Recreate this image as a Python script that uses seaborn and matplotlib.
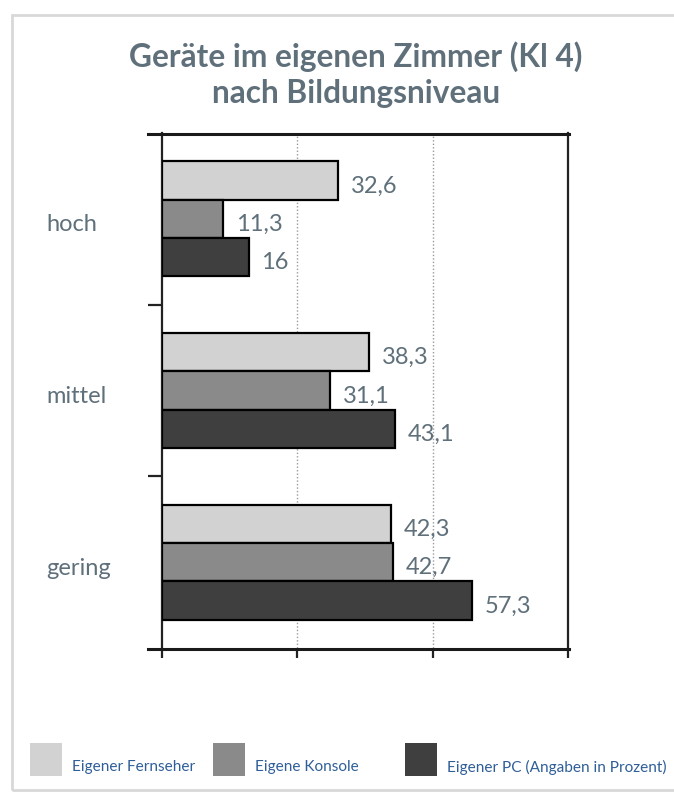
import pandas as pd
import seaborn as sns
import matplotlib.pyplot as plt
from matplotlib.patches import Rectangle
from matplotlib.lines import Line2D
from matplotlib.transforms import ScaledTranslation

# data
levels = ['hoch', 'mittel', 'gering']
series = ['Eigener Fernseher', 'Eigene Konsole', 'Eigener PC (Angaben in Prozent)']
fernseher = [32.6, 38.3, 42.3]
konsole = [11.3, 31.1, 42.7]
pc = [16.0, 43.1, 57.3]
x_ticks = [0, 25, 50, 75]

colors = ['#d2d2d2', '#8a8a8a', '#3f3f3f']
text_grey = '#5f707b'
legend_blue = '#2f5e98'

rows = []
for name, vals in zip(series, [fernseher, konsole, pc]):
    for lvl, v in zip(levels, vals):
        rows.append({'Bildung': lvl, 'Serie': name, 'Wert': v})
data = pd.DataFrame(rows)

sns.set_style('white')
plt.rcParams['font.family'] = ['Lato', 'DejaVu Sans']

fig = plt.figure(figsize=(6.74, 7.99), dpi=100)
ax = fig.add_axes([162 / 674, 1 - 648 / 799, 406 / 674, 515 / 799])

sns.barplot(data=data, y='Bildung', x='Wert', hue='Serie', order=levels, hue_order=series,
            palette=dict(zip(series, colors)), orient='h', width=0.67, saturation=1,
            edgecolor='black', linewidth=1.6, legend=False, ax=ax, zorder=3)

# value labels with German decimal comma, sitting a little below the bar centre
for cont in ax.containers:
    labels = [f'{v:g}'.replace('.', ',') for v in cont.datavalues]
    texts = ax.bar_label(cont, labels=labels, padding=9, fontsize=17, color=text_grey)
    for t in texts:
        t.xyann = (9, -4)

ax.set_xlim(0, 75)
ax.set_ylim(2.5, -0.5)
ax.set_xticks(x_ticks)
ax.set_xticklabels([])
ax.set_xlabel('')
ax.set_ylabel('')

# dotted grid lines at inner ticks
for xv in x_ticks[1:-1]:
    ax.axvline(xv, color='#9a9a9a', linestyle=(0, (1, 1.5)), linewidth=1.0, zorder=1)

for side in ['left', 'right']:
    ax.spines[side].set_color('#222222')
    ax.spines[side].set_linewidth(1.6)
ax.spines['top'].set_visible(False)
ax.spines['bottom'].set_visible(False)

# top and bottom frame lines run a bit past the left axis
for ypix in [133.5, 648.5]:
    fig.add_artist(Line2D([148 / 674, 568.5 / 674], [1 - ypix / 799, 1 - ypix / 799],
                          transform=fig.transFigure, color='#1a1a1a', linewidth=2.2,
                          solid_capstyle='projecting', zorder=10))

ax.tick_params(axis='x', direction='out', length=7, width=1.6, color='#222222', bottom=True)
ax.set_yticks([0.5, 1.5], minor=True)
ax.tick_params(axis='y', which='minor', direction='out', length=10, width=1.6,
               color='#222222', left=True)
ax.tick_params(axis='y', which='major', length=0, pad=83, labelsize=17,
               labelcolor=text_grey)
shift = ScaledTranslation(0, -4 / 100, fig.dpi_scale_trans)
for lab in ax.get_yticklabels():
    lab.set_horizontalalignment('left')
    lab.set_transform(lab.get_transform() + shift)

# title
fig.text(356 / 674, 1 - 57 / 799, 'Geräte im eigenen Zimmer (Kl 4)', ha='center', va='center',
         fontsize=22.8, fontweight='bold', color=text_grey)
fig.text(356 / 674, 1 - 94 / 799, 'nach Bildungsniveau', ha='center', va='center',
         fontsize=22.8, fontweight='bold', color=text_grey)

# legend drawn below the plot
legend_x = [30, 213, 405]
for x0, name, c in zip(legend_x, series, colors):
    fig.add_artist(Rectangle((x0 / 674, 1 - 776 / 799), 32 / 674, 33 / 799,
                             transform=fig.transFigure, facecolor=c, edgecolor='none'))
    fig.text((x0 + 42) / 674, 1 - 767 / 799, name, ha='left', va='center',
             fontsize=11.1, color=legend_blue)

# light frame around the graphic
fig.add_artist(Rectangle((12 / 674, 1 - 790 / 799), 700 / 674, 775 / 799,
                         transform=fig.transFigure, facecolor='none',
                         edgecolor='#d8d8d8', linewidth=2))

fig.savefig('out.png', dpi=100)
